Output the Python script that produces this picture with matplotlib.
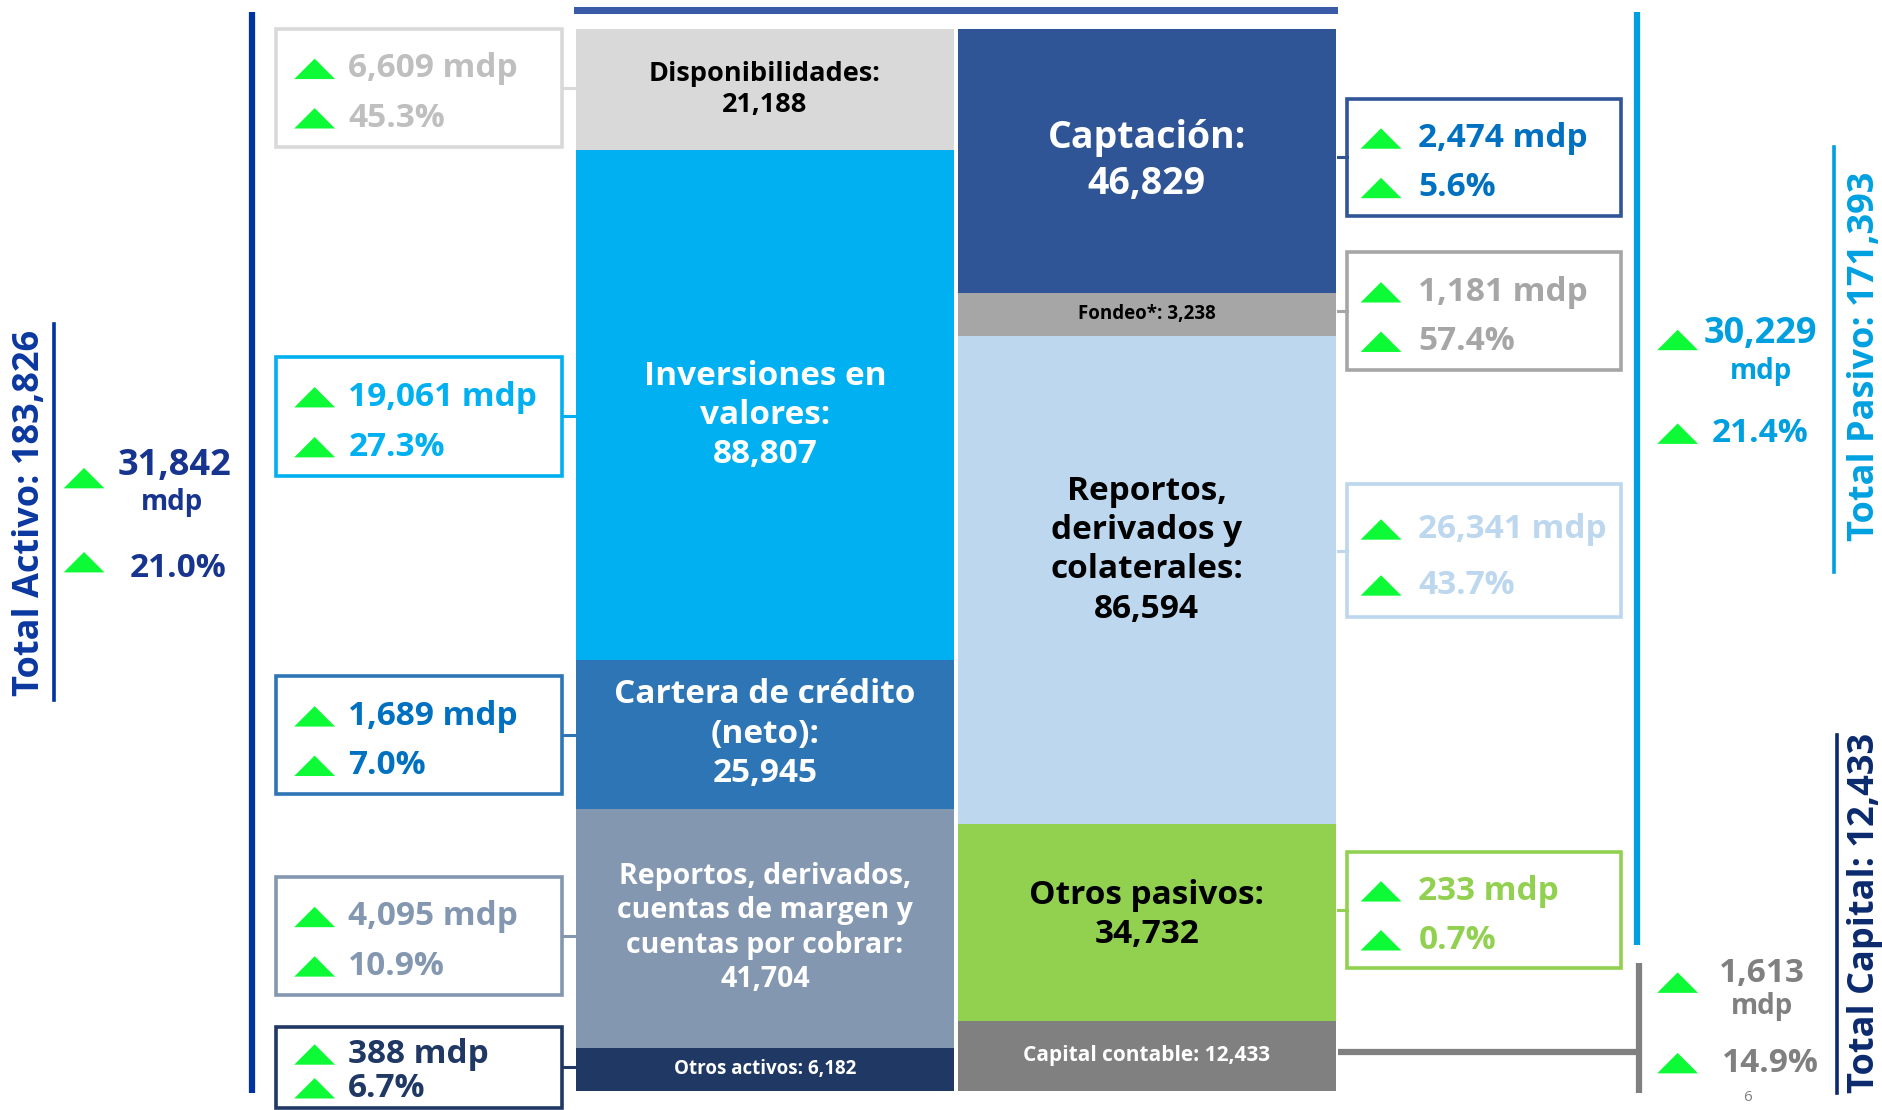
import matplotlib
matplotlib.use("Agg")
import matplotlib.pyplot as plt
from matplotlib.patches import Rectangle, Polygon

plt.rcParams['font.family'] = ['Open Sans', 'DejaVu Sans']

# ---- datos (mdp) ----
activo_nombres = ["Disponibilidades", "Inversiones en\nvalores", "Cartera de crédito\n(neto)",
                  "Reportos, derivados,\ncuentas de margen y\ncuentas por cobrar", "Otros activos"]
activo_valores = [21188, 88807, 25945, 41704, 6182]
activo_var_mdp = [6609, 19061, 1689, 4095, 388]
activo_var_pct = [45.3, 27.3, 7.0, 10.9, 6.7]

pasivo_nombres = ["Captación", "Fondeo*", "Reportos,\nderivados y\ncolaterales", "Otros pasivos",
                  "Capital contable"]
pasivo_valores = [46829, 3238, 86594, 34732, 12433]
pasivo_var_mdp = [2474, 1181, 26341, 233]
pasivo_var_pct = [5.6, 57.4, 43.7, 0.7]

total_activo = 183826
total_pasivo = 171393
total_capital = 12433
var_activo = (31842, 21.0)
var_pasivo = (30229, 21.4)
var_capital = (1613, 14.9)

# ---- estilo ----
activo_colores = ["#d9d9d9", "#00b0f0", "#2e75b6", "#8497b0", "#203864"]
activo_txt = ["black", "white", "white", "white", "white"]
activo_fs = [19.5, 24, 24, 20.5, 13.5]
activo_dy = [0, 1.0, 0, 0, 0]      # ajuste vertical de la etiqueta (en %)
pasivo_colores = ["#2f5597", "#a6a6a6", "#bdd7ee", "#92d050", "#808080"]
pasivo_txt = ["white", "black", "black", "black", "white"]
pasivo_fs = [27, 13.5, 24, 24, 15]
pasivo_dy = [0, 0, -2.8, -0.7, 0]

caja_izq_borde = ["#d9d9d9", "#00b0f0", "#2e75b6", "#8497b0", "#203864"]
caja_izq_texto = ["#bfbfbf", "#00b0f0", "#0070c0", "#8497b0", "#203864"]
caja_der_borde = ["#2f5597", "#a6a6a6", "#bdd7ee", "#92d050"]
caja_der_texto = ["#0070c0", "#a6a6a6", "#bdd7ee", "#92d050"]
verde = "#0cfb36"

min_alto = 7500  # altura minima visible para segmentos chicos

W, H = 1568, 924
fig = plt.figure(figsize=(18.83, 11.10), dpi=100)

# barras apiladas (en % de la columna)
y0, y1 = 24, 908
ax = fig.add_axes([478 / W, 1 - y1 / H, (1114 - 478) / W, (y1 - y0) / H])
ax.set_xlim(-0.5, 1.5)
ax.set_ylim(100, 0)
ax.axis("off")


def apilar(x, valores, colores):
    disp = [max(v, min_alto) for v in valores]
    tot = sum(disp)
    alturas = [d / tot * 100 for d in disp]
    base = 0
    centros = []
    for h, c in zip(alturas, colores):
        ax.bar(x, h, bottom=base, width=0.99, color=c, edgecolor="none")
        centros.append(base + h / 2)
        base += h
    return centros


c_act = apilar(0, activo_valores, activo_colores)
c_pas = apilar(1, pasivo_valores, pasivo_colores)

for i, (n, v) in enumerate(zip(activo_nombres, activo_valores)):
    lab = f"{n}: {v:,}" if i == 4 else f"{n}:\n{v:,}"
    ax.text(0, c_act[i] + activo_dy[i], lab, ha="center", va="center", color=activo_txt[i],
            fontsize=activo_fs[i], fontweight="bold", linespacing=1.25)
for i, (n, v) in enumerate(zip(pasivo_nombres, pasivo_valores)):
    lab = f"{n}: {v:,}" if i in (1, 4) else f"{n}:\n{v:,}"
    ax.text(1, c_pas[i] + pasivo_dy[i], lab, ha="center", va="center", color=pasivo_txt[i],
            fontsize=pasivo_fs[i], fontweight="bold", linespacing=1.25)

# capa de anotaciones en pixeles
ov = fig.add_axes([0, 0, 1, 1])
ov.set_xlim(0, W)
ov.set_ylim(H, 0)
ov.axis("off")
ov.patch.set_alpha(0)


def tri(x, y):
    ov.add_patch(Polygon([(x - 17, y + 8.5), (x + 17, y + 8.5), (x, y - 8.5)],
                         closed=True, color=verde, lw=0))


def caja(x0, x1, top, h, borde, texto, mdp, pct, xtri, xtxt, lado):
    ov.add_patch(Rectangle((x0, top), x1 - x0, h, fill=False, ec=borde, lw=2.6))
    ya, yb = top + h * 0.34, top + h * 0.76
    tri(xtri, ya)
    tri(xtri, yb)
    ov.text(xtxt, ya, f"{mdp:,} mdp", ha="left", va="center", color=texto,
            fontsize=24, fontweight="bold")
    ov.text(xtxt, yb, f"{pct:.1f}%", ha="left", va="center", color=texto,
            fontsize=24, fontweight="bold")
    yc = top + h / 2
    if lado == "izq":
        ov.plot([x1, 478], [yc, yc], color=borde, lw=2.2)
    else:
        ov.plot([1114, x0], [yc, yc], color=borde, lw=2.2)


# cajas izquierda
izq_top = [24, 297, 563, 730, 855]
izq_h = [98, 99, 98, 98, 67]
for i in range(5):
    caja(230, 468, izq_top[i], izq_h[i], caja_izq_borde[i], caja_izq_texto[i],
         activo_var_mdp[i], activo_var_pct[i], 262, 290, "izq")

# cajas derecha
der_top = [82, 210, 403, 709]
der_h = [98, 98, 111, 97]
for i in range(4):
    caja(1122, 1350, der_top[i], der_h[i], caja_der_borde[i], caja_der_texto[i],
         pasivo_var_mdp[i], pasivo_var_pct[i], 1150, 1181, "der")

# barra superior y lineas
ov.add_patch(Rectangle((478, 6), 1114 - 478, 6, color="#3a5ba8", lw=0))
ov.plot([210, 210], [10, 910], color="#0033a0", lw=4.5, solid_capstyle="butt")
ov.plot([1363, 1363], [10, 787], color="#009fe0", lw=4.5, solid_capstyle="butt")
ov.plot([1365, 1365], [802, 910], color="#808080", lw=4.5, solid_capstyle="butt")
ov.plot([1114, 1365], [876, 876], color="#808080", lw=4.5, solid_capstyle="butt")

# total activo
ov.plot([45, 45], [270, 583], color="#0033a0", lw=2.6)
ov.text(25, 427, f"Total Activo: {total_activo:,}", rotation=90, ha="center", va="center",
        color="#0b38a0", fontsize=26, fontweight="bold")
col = "#17348f"
tri(70, 398)
tri(70, 468)
ov.text(145, 388, f"{var_activo[0]:,}", ha="center", va="center", color=col,
        fontsize=26, fontweight="bold")
ov.text(143, 418, "mdp", ha="center", va="center", color=col, fontsize=20, fontweight="bold")
ov.text(148, 473, f"{var_activo[1]:.1f}%", ha="center", va="center", color=col,
        fontsize=24, fontweight="bold")

# total pasivo
col = "#00a0e0"
ov.plot([1527, 1527], [122, 476], color=col, lw=2.6)
ov.text(1553, 297, f"Total Pasivo: {total_pasivo:,}", rotation=90, ha="center", va="center",
        color=col, fontsize=26, fontweight="bold")
tri(1397, 283)
tri(1397, 361)
ov.text(1466, 278, f"{var_pasivo[0]:,}", ha="center", va="center", color=col,
        fontsize=26, fontweight="bold")
ov.text(1466, 309, "mdp", ha="center", va="center", color=col, fontsize=20, fontweight="bold")
ov.text(1466, 361, f"{var_pasivo[1]:.1f}%", ha="center", va="center", color=col,
        fontsize=24, fontweight="bold")

# total capital
ov.plot([1530, 1530], [612, 910], color="#0b2a6e", lw=2.6)
ov.text(1553, 760, f"Total Capital: {total_capital:,}", rotation=90, ha="center", va="center",
        color="#0b2a6e", fontsize=26, fontweight="bold")
col = "#808080"
tri(1397, 818)
tri(1397, 885)
ov.text(1467, 810, f"{var_capital[0]:,}", ha="center", va="center", color=col,
        fontsize=24, fontweight="bold")
ov.text(1467, 838, "mdp", ha="center", va="center", color=col, fontsize=20, fontweight="bold")
ov.text(1474, 885, f"{var_capital[1]:.1f}%", ha="center", va="center", color=col,
        fontsize=24, fontweight="bold")
ov.text(1455, 914, "6", ha="center", va="center", color="#808080", fontsize=11)

fig.savefig("out.png", dpi=100)
